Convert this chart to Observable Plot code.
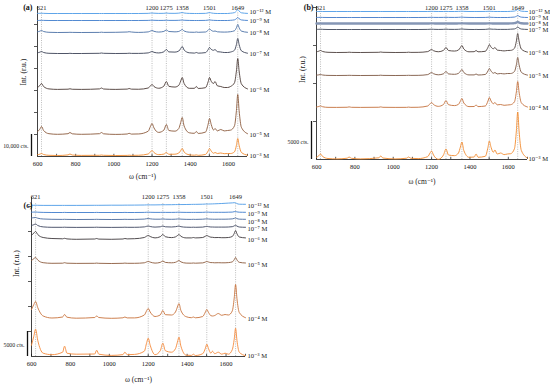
<!DOCTYPE html>
<html><head><meta charset="utf-8">
<script src="https://cdn.jsdelivr.net/npm/d3@7"></script>
<script src="https://cdn.jsdelivr.net/npm/@observablehq/plot@0.6"></script>
<style>
body{margin:0;background:#fff;width:550px;height:385px;position:relative;overflow:hidden;font-family:"Liberation Serif","DejaVu Serif",serif;}
.panel{position:absolute;}
</style></head><body>
<div id="pa" class="panel" style="left:0;top:0"></div>
<div id="pb" class="panel" style="left:275px;top:0"></div>
<div id="pc" class="panel" style="left:0;top:190px"></div>
<script>
// Raman shift grid (cm^-1) shared by all traces
const wavenumber = [600,612,621,632,660, 705,760,770,782,830, 925,935,946,1010,1070, 1080,1092,1130, 1180,1192,1200,1210,1235, 1262,1275,1288, 1320,1340,1350,1358,1368,1395, 1422,1432,1442, 1480,1494,1501,1510,1522,1530,1542, 1560,1578,1595, 1612,1632,1642,1649,1656,1668,1700];
const peakPositions = [621,1200,1275,1358,1501,1649];

// ---- panel (a) ----
const concA = ["10⁻¹² M","10⁻⁹ M","10⁻⁸ M","10⁻⁷ M","10⁻⁶ M","10⁻⁵ M","10⁻³ M"];
const offsetA = [143,136,124,103,67,22,1];
const a_m12 = [0.1,0.2,0.3,0.15,0, 0,0,0,0,0, 0,0,0,0,0, 0,0,0, 0.15,0.4,0.5,0.3,0.1, 0.2,0.5,0.2, 0.15,0.35,0.7,1,0.5,0.1, 0,0,0, 0.15,0.65,1,0.55,0.2,0.1,0, 0,0,0, 0.3,0.9,2.4,4,2.4,0.7,0.1];
const a_m9  = [0,0.1,0.2,0.1,0, 0,0,0,0,0, 0,0,0,0,0, 0,0,0, 0.1,0.25,0.3,0.2,0.05, 0.1,0.3,0.1, 0.1,0.2,0.35,0.5,0.25,0.05, 0,0,0, 0.1,0.4,0.6,0.35,0.15,0.1,0, 0,0,0, 0.2,0.65,1.8,3,1.8,0.55,0.05];
const a_m8  = [0.7,1.3,2,1,0.2, 0,0.1,0.2,0.1,0, 0.1,0.3,0.1,0.2,0.5, 0.8,0.5,0.1, 0.6,1.5,2,1.2,0.45, 1.1,2.5,1, 0.65,1.05,2.1,3,1.5,0.3, 0.2,0.5,0.2, 0.5,2.3,3.5,2.2,1.2,1.5,0.7, 0.5,0.4,0.5, 0.8,1.8,4.8,8,4.8,1.4,0.2];
const a_m7  = [0.7,1.3,2,1,0.2, 0,0,0.2,0,0, 0.2,0.5,0.2,0,0.1, 0.3,0.1,0.1, 0.6,1.5,2,1.2,0.55, 1.7,4,1.6, 1.4,2.45,4.9,7,3.5,0.7, 0.4,1,0.35, 0.9,3.9,6,4.1,3.2,4,1.8, 1.5,1,1, 1.5,3.3,9,15,9,2.7,0.3];
const a_m6  = [2.1,3.9,6,3,0.6, 0.1,0.3,0.7,0.25,0.1, 0.6,1.5,0.5,0.1,0.4, 1,0.35,0.25, 1.5,3.75,5,3,1.25, 3.4,8,3.2, 2.45,4.2,8.4,12,6,1.2, 1.2,3,1.05, 1.8,7.8,12,8.2,6,8,3.7, 3,2,2, 3.1,6.8,18.6,31,18.6,5.6,0.6];
const a_m5  = [2.8,5.2,8,4,0.8, 0.2,0.8,2,0.7,0.2, 0.8,2,0.7,0.1,0.5, 1.2,0.4,0.55, 3.3,8.25,11,6.6,2.1, 4.4,10,4, 3.35,5.95,11.9,17,8.5,1.7, 1.2,3,1.05, 2.4,10.4,16,10,4.5,6,3.6, 5,3.6,4, 4.4,8.8,24,40,24,7.2,0.8];
const a_m3  = [0.7,1.3,2,1,0.2, 0,0.6,1.5,0.5,0.1, 0.2,0.5,0.2,0,0.1, 0.3,0.1,0.25, 1.5,3.75,5,3,0.85, 1.4,3,1.2, 1.3,2.45,4.9,7,3.5,0.7, 0.3,0.6,0.2, 1.05,4.55,7,4.45,2.25,3,2, 2.5,1.8,2, 2,3.7,10.2,17,10.2,3.1,0.3];

// ---- panel (b) ----
const concB = ["10⁻¹² M","10⁻⁹ M","10⁻⁸ M","10⁻⁷ M","10⁻⁶ M","10⁻⁵ M","10⁻⁴ M","10⁻³ M"];
const offsetB = [148,142,136,130,107,84,52,0.5];
const b_m12 = [0,0,0.1,0,0, 0,0,0,0,0, 0,0,0,0,0, 0,0,0, 0,0.1,0.15,0.1,0, 0,0.1,0, 0,0.1,0.2,0.3,0.15,0, 0,0,0, 0.05,0.2,0.3,0.15,0.05,0,0, 0,0,0, 0.15,0.45,1.2,2,1.2,0.35,0];
const b_m9  = [0,0.1,0.15,0.05,0, 0,0,0,0,0, 0,0,0,0,0, 0,0,0, 0.05,0.15,0.2,0.1,0.05, 0.1,0.2,0.1, 0.05,0.15,0.3,0.4,0.2,0.05, 0,0,0, 0.05,0.25,0.4,0.2,0.1,0.05,0, 0,0,0, 0.15,0.45,1.2,2,1.2,0.35,0];
const b_m8  = [0,0,0.1,0,0, 0,0,0,0,0, 0,0,0,0,0, 0,0,0, 0,0.1,0.15,0.1,0, 0,0.1,0, 0,0.1,0.15,0.2,0.1,0, 0,0,0, 0,0.1,0.2,0.1,0.05,0,0, 0,0,0, 0.1,0.35,0.9,1.5,0.9,0.25,0];
const b_m7  = [0.1,0.2,0.3,0.15,0, 0,0,0,0,0, 0,0,0,0,0, 0,0,0, 0.1,0.25,0.3,0.2,0.05, 0.15,0.4,0.15, 0.1,0.2,0.4,0.6,0.3,0.05, 0,0.1,0, 0.1,0.4,0.6,0.4,0.25,0.3,0.1, 0.1,0.1,0.1, 0.3,0.55,1.5,2.5,1.5,0.45,0.05];
const b_m6  = [0.7,1.3,2,1,0.2, 0,0.1,0.3,0.1,0, 0.2,0.5,0.2,0,0.1, 0.3,0.1,0.15, 0.9,2.25,3,1.8,0.75, 2.1,5,2, 1.45,2.45,4.9,7,3.5,0.7, 0.8,2,0.7, 1.2,5.2,8,5.4,3.75,5,2.4, 2,1.6,2, 2.1,4.2,11.4,19,11.4,3.4,0.4];
const b_m5  = [0.35,0.65,1,0.5,0.1, 0,0.1,0.2,0.1,0, 0.1,0.3,0.1,0,0.1, 0.2,0.1,0.15, 0.9,2.25,3,1.8,0.7, 1.7,4,1.6, 1.2,2.1,4.2,6,3,0.6, 0.6,1.5,0.5, 1.05,4.55,7,4.45,2.25,3,1.6, 2,1.6,2, 2,4,10.8,18,10.8,3.2,0.4];
const b_m4  = [0.5,1,1.5,0.75,0.15, 0.1,0.25,0.6,0.2,0.1, 0.25,0.6,0.2,0.1,0.15, 0.4,0.15,0.25, 1.5,3.75,5,3,1.15, 3,7,2.8, 1.9,3.15,6.3,9,4.5,0.9, 1,2.5,0.9, 1.5,6.5,10,6.5,3.75,5,2.65, 3,2.2,2.5, 2.8,5.7,15.6,26,15.6,4.7,0.5];
const b_m3  = [1.75,3.25,5,2.5,0.5, 0.1,0.8,2,0.7,0.1, 1.2,3,1,0.1,0.8, 2,0.7,0.4, 2.4,6,8,4,-0.3, 4,10,4, 3.35,5.95,11.9,17,8.5,1.7, 2,5,1.75, 2.7,11.7,18,11.7,6.75,9,4.95, 6,4.4,5, 5.3,10.3,28.2,47,28.2,8.5,0.9];

// ---- panel (c) ----
const concC = ["10⁻¹² M","10⁻⁹ M","10⁻⁸ M","10⁻⁷ M","10⁻⁶ M","10⁻⁵ M","10⁻⁴ M","10⁻³ M"];
const offsetC = [151,144,137,129,118,93,38,0.3];
const c_m12 = [0.2,0.2,0.3,0.2,0.1, 0.1,0.1,0.1,0.1,0.1, 0.2,0.2,0.2,0.3,0.3, 0.35,0.35,0.4, 0.5,0.6,0.65,0.6,0.6, 0.7,0.8,0.75, 0.8,0.9,0.95,1,0.95,1, 1.1,1.15,1.15, 1.3,1.45,1.5,1.5,1.55,1.6,1.7, 1.85,2,2.2, 2.4,2.6,2.8,2.7,1.9,1.3,1.2];
const c_m9  = [0.3,0.4,0.5,0.3,0.1, 0,0,0.1,0,0, 0,0.1,0,0,0, 0.1,0,0, 0.1,0.25,0.3,0.2,0.1, 0.1,0.2,0.1, 0.1,0.15,0.25,0.3,0.2,0.1, 0.1,0.1,0.1, 0.15,0.3,0.4,0.3,0.2,0.2,0.2, 0.2,0.2,0.2, 0.3,0.4,0.8,1,0.6,0.3,0.2];
const c_m8  = [1.6,1.8,2,1.3,0.5, 0.2,0.1,0.2,0.1,0, 0.1,0.2,0.1,0,0.1, 0.2,0.1,0.1, 0.4,0.8,1,0.7,0.3, 0.3,0.6,0.3, 0.2,0.3,0.5,0.6,0.35,0.15, 0.1,0.2,0.1, 0.3,0.55,0.7,0.5,0.35,0.3,0.25, 0.3,0.3,0.3, 0.4,0.6,1.1,1.5,0.9,0.35,0.2];
const c_m7  = [2,2.8,3.5,2,0.6, 0.2,0.2,0.3,0.2,0.1, 0.2,0.3,0.2,0.1,0.2, 0.3,0.2,0.2, 0.6,1.2,1.5,1,0.4, 0.7,1.5,0.7, 0.5,0.8,1.2,1.5,0.8,0.3, 0.2,0.3,0.2, 0.4,0.9,1.2,0.8,0.5,0.5,0.4, 0.4,0.4,0.4, 0.5,0.8,1.6,2.2,1.4,0.5,0.2];
const c_m6  = [3,5.5,7,4,1, 0,-0.3,0.2,-0.4,-0.8, -0.5,0,-0.6,-0.8,-0.5, 0,-0.4,-0.2, 1,2.4,3,2,0.6, 1.8,4,1.8, 0.9,1.6,2.9,4,2.2,0.6, 0.6,1,0.6, 1,2.3,3,2.2,1.3,1.2,0.9, 1,0.8,0.8, 1,2,5,8,4.8,1.5,0.6];
const c_m5  = [3,4.8,6,3.5,0.8, 0.2,0.3,0.8,0.3,0.1, 0.2,0.4,0.2,0,0.2, 0.4,0.2,0.2, 0.7,1.6,2,1.4,0.4, 1.1,2.5,1.1, 0.7,1.2,2.2,3,1.6,0.4, 0.3,0.5,0.3, 0.6,1.5,2,1.5,0.9,0.9,0.7, 0.8,0.7,0.7, 0.9,1.6,3.8,6,3.6,1.2,0.5];
const c_m4  = [9,14,17,11,2.5, 0.5,1.5,4,1.3,0.3, 1,2.5,1,0.2,0.7, 1.5,0.6,0.6, 3.5,7.8,10,6.5,2, 3.6,8,3.8, 3.5,6.5,11.5,15,8,1.8, 0.8,1.5,0.7, 2,6.5,9,6,2.8,2.5,3, 5,3.2,4, 3.5,7.5,20.4,34,20,6,0.8];
const c_m3  = [11,20,27,16,3, 1.5,4,10,3,2, 2.2,6,2,0.8,1.6, 4,1.5,1.8, 5,13.5,18,11,1.5, 5.5,13,5.5, 4,7.5,14,19,10,1, 0.8,2,0.7, 2.5,8,12,7.5,3,5,2.5, 4,2,3, 2,6.5,17,28,16,4,0.5];

// counts represented by one relative unit in each panel (scale bars)
const ctsPerUnit = {a: 10000/22, b: 5000/38, c: 5000/25};
const scaleBarCts = {a: 10000, b: 5000, c: 5000};
const scaleBarText = {a: "10,000 cts.", b: "5000 cts.", c: "5000 cts."};

const FONT = "Liberation Serif, DejaVu Serif, serif";

function drawPanel(el, cfg) {
  const rows = [];
  cfg.series.forEach((vals, i) => vals.forEach((v, j) => rows.push({w: wavenumber[j], y: cfg.offsets[i] + v, k: i})));
  const unit = ctsPerUnit[cfg.id];
  const tickStep = scaleBarCts[cfg.id] / unit;
  const barLen = scaleBarCts[cfg.id] / unit;
  const xEnd = wavenumber[wavenumber.length - 1];
  const marks = [
    Plot.ruleX(peakPositions, {y1: 0, y2: cfg.dotTop, stroke: "#a0a0a0", strokeWidth: 0.7, strokeDasharray: "1,1.3"}),
    Plot.ruleY([0], {stroke: "#111", strokeWidth: 0.8}),
    Plot.ruleX([wavenumber[0]], {stroke: "#111", strokeWidth: 0.8}),
    Plot.ruleX(d3.range(600, 1701, 100), {y1: 0, y2: 2.2, stroke: "#111", strokeWidth: 0.7}),
    Plot.axisY({ticks: d3.range(tickStep, cfg.yMax, tickStep), tickSize: 3, tickFormat: () => "", label: null, strokeWidth: 0.7}),
    Plot.axisX({ticks: d3.range(600, 1601, 200), tickSize: 0, tickPadding: 5, tickFormat: d => `${d}`, label: null, fontSize: 6.5, fontFamily: FONT})
  ];
  cfg.series.forEach((vals, i) => {
    marks.push(Plot.line(rows.filter(r => r.k === i), {x: "w", y: "y", stroke: cfg.colors[i], strokeWidth: (cfg.widths && cfg.widths[i]) || 0.9, curve: "monotone-x"}));
  });
  marks.push(
    Plot.text(peakPositions, {x: d => d, frameAnchor: "top", dy: cfg.peakDy, text: d => `${d}`, fontSize: 6.5, lineAnchor: "middle", fill: "#222"}),
    Plot.text(cfg.conc, {x: () => xEnd, y: (d, i) => cfg.offsets[i] + cfg.labelShift[i], dx: cfg.labelDx, text: d => d, textAnchor: "start", fontSize: 6.6, fill: "#222"}),
    Plot.ruleX([wavenumber[0]], {y1: 0, y2: barLen, dx: cfg.barDx, stroke: "#111", strokeWidth: 1.3}),
    Plot.text([scaleBarText[cfg.id]], {x: () => wavenumber[0], y: () => cfg.barTextY, dx: cfg.barDx - 3, textAnchor: "end", fontSize: 5.8, fill: "#222"}),
    Plot.text(["ω (cm⁻¹)"], {frameAnchor: "bottom", dy: cfg.xTitleDy, fontSize: 7.5, fill: "#222"}),
    Plot.text(["Int. (r.u.)"], {frameAnchor: "left", dx: cfg.yTitleDx, dy: cfg.yTitleDy, rotate: -90, fontSize: 7.5, fill: "#222"}),
    Plot.text([cfg.letter], {frameAnchor: "top-left", dx: cfg.letterDx, dy: cfg.letterDy, textAnchor: "end", lineAnchor: "middle", fontWeight: "bold", fontSize: 8, fill: "#111"})
  );
  const chart = Plot.plot({
    width: 275, height: 195,
    marginLeft: cfg.ml, marginRight: cfg.mr, marginTop: cfg.mt, marginBottom: cfg.mb,
    x: {domain: [600, 1700]},
    y: {domain: [0, cfg.yMax]},
    style: {fontFamily: FONT, background: "transparent", overflow: "visible", color: "#111"},
    marks
  });
  document.getElementById(el).appendChild(chart);
}

drawPanel("pa", {
  id: "a", letter: "(a)", conc: concA, offsets: offsetA,
  series: [a_m12, a_m9, a_m8, a_m7, a_m6, a_m5, a_m3],
  colors: ["#4d9be6","#3f7dcc","#4a6fa5","#3b4256","#4b3a35","#8b5a3c","#f28a2e"],
  labelShift: [1.5,0,0,0,0,0,0], labelDx: 2,
  ml: 37, mr: 28, mt: 6, mb: 39, yMax: 150, dotTop: 145, peakDy: 1,
  barDx: -6, barTextY: 10, xTitleDy: 22, yTitleDx: -14, yTitleDy: 4, letterDx: -5, letterDy: 1
});
drawPanel("pb", {
  id: "b", letter: "(b)", conc: concB, offsets: offsetB,
  series: [b_m12, b_m9, b_m8, b_m7, b_m6, b_m5, b_m4, b_m3],
  colors: ["#4d9be6","#3f78c8","#8596b5","#3e4658","#4b3d3a","#7d5742","#c4703c","#f28a2e"],
  widths: [0.9,0.9,2.4,0.9,0.9,0.9,0.9,0.9],
  labelShift: [0,0,0,0,0,0,0,0], labelDx: 1,
  ml: 41, mr: 23, mt: 6, mb: 36, yMax: 153, dotTop: 148, peakDy: 1,
  barDx: -5, barTextY: 17, xTitleDy: 24, yTitleDx: -14, yTitleDy: 0, letterDx: -3, letterDy: 1
});
drawPanel("pc", {
  id: "c", letter: "(c)", conc: concC, offsets: offsetC,
  series: [c_m12, c_m9, c_m8, c_m7, c_m6, c_m5, c_m4, c_m3],
  colors: ["#4d9be6","#3f7dcc","#4a6a9c","#3e4660","#3e393c","#8b5a3c","#c8733c","#f5893a"],
  labelShift: [0,-1,-2,-1,-1,-1,0,0], labelDx: 2,
  ml: 31, mr: 30, mt: 7, mb: 29, yMax: 159, dotTop: 154, peakDy: -1,
  barDx: -4, barTextY: 11, xTitleDy: 25, yTitleDx: -15, yTitleDy: 0, letterDx: 1, letterDy: 8
});
</script>
</body></html>
